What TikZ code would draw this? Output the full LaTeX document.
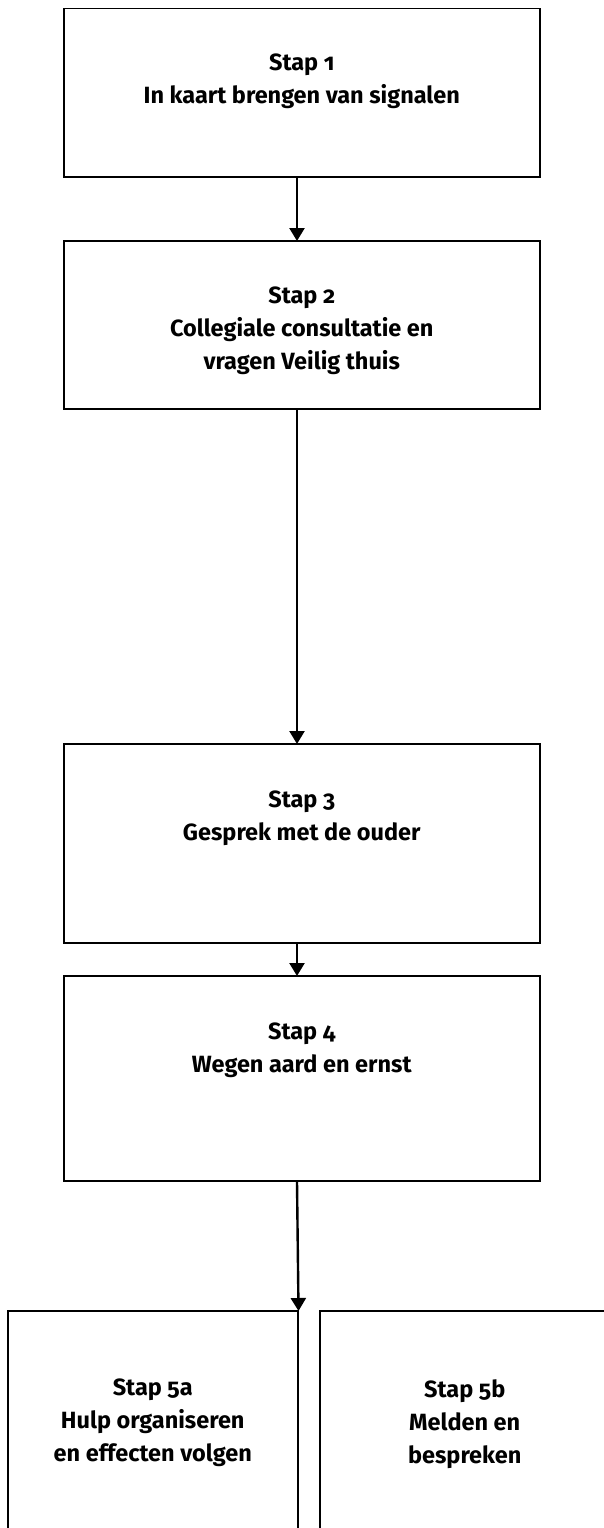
\documentclass[tikz,border=0pt]{standalone}
\usepackage{fontspec}
\setmainfont{Fira Sans}[Numbers=OldStyle]
\usetikzlibrary{arrows.meta}
\tikzset{
  stepbox/.style={draw=black, line width=1.5pt, anchor=north west, minimum width=476pt, inner sep=0pt},
  smallbox/.style={draw=black, line width=1.5pt, anchor=north west, minimum width=290pt, minimum height=240pt, inner sep=0pt},
  steptext/.style={anchor=north, align=center, font=\fontsize{23.5}{33}\selectfont\bfseries, inner sep=0pt},
  flow/.style={line width=2.4pt, -{Triangle[width=15pt,length=13pt]}, shorten >=-1pt}
}
\begin{document}
\begin{tikzpicture}[x=1pt,y=1pt]
\useasboundingbox (0,0) rectangle (603,-1528);
\fill[white] (0,0) rectangle (603,-1528);
\node[stepbox, minimum height=168pt] (b1) at (63,-8) {};
\node[stepbox, minimum height=168pt] (b2) at (63,-240) {};
\node[stepbox, minimum height=199pt] (b3) at (63,-743) {};
\node[stepbox, minimum height=205pt] (b4) at (63,-975) {};
\node[smallbox] (b5a) at (7,-1310) {};
\node[smallbox] (b5b) at (319,-1310) {};
\node[steptext] (t1) at ([yshift=-46pt]b1.north) {Stap 1\\In kaart brengen van signalen};
\node[steptext] (t2) at ([yshift=-47pt]b2.north) {Stap 2\\Collegiale consultatie en\\vragen Veilig thuis};
\node[steptext] (t3) at ([yshift=-48pt]b3.north) {Stap 3\\Gesprek met de ouder};
\node[steptext] (t4) at ([yshift=-48pt]b4.north) {Stap 4\\Wegen aard en ernst};
\node[steptext] (t5a) at ([yshift=-69pt]b5a.north) {Stap 5a\\Hulp organiseren\\en effecten volgen};
\node[steptext] (t5b) at ([yshift=-69pt]b5b.north) {Stap 5b\\Melden en\\bespreken};
\coordinate (ax) at (297,-176);
\draw[flow] (b1.south -| ax) -- (b2.north -| ax);
\draw[flow] (b2.south -| ax) -- (b3.north -| ax);
\draw[flow] (b3.south -| ax) -- (b4.north -| ax);
\draw[flow] (b4.south -| ax) -- (b5a.north east);
\end{tikzpicture}
\end{document}
